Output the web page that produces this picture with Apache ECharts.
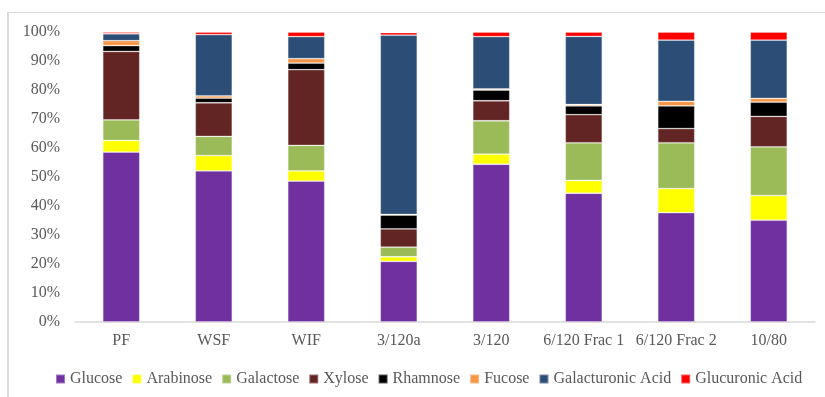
<!DOCTYPE html>
<html>
<head>
<meta charset="utf-8">
<script src="https://cdn.jsdelivr.net/npm/echarts@6/dist/echarts.min.js"></script>
<style>
  html, body { margin: 0; padding: 0; background: #fff; }
  #frame { position: absolute; left: 7px; top: 12px; width: 830px; height: 400px; border-left: 2px solid #d9d9d9; border-top: 1px solid #d9d9d9; box-sizing: border-box; }
  #chart { position: absolute; left: 0; top: 0; width: 825px; height: 397px; }
</style>
</head>
<body>
<div id="frame"></div>
<div id="chart"></div>
<script>
// Sample fractions
const categories = ['PF', 'WSF', 'WIF', '3/120a', '3/120', '6/120 Frac 1', '6/120 Frac 2', '10/80'];

// Monosaccharide composition, % of total for each fraction
const glucose          = [58.6, 52.1, 48.6, 20.9, 54.4, 44.4, 37.7, 35.1];
const arabinose        = [ 4.0,  5.3,  3.5,  1.6,  3.5,  4.4,  8.3,  8.5];
const galactose        = [ 7.1,  6.6,  8.8,  3.3, 11.5, 13.0, 15.8, 16.8];
const xylose           = [23.6, 11.6, 26.1,  6.3,  6.9,  9.7,  4.9, 10.5];
const rhamnose         = [ 2.0,  1.6,  2.3,  4.8,  3.7,  3.0,  7.8,  4.9];
const fucose           = [ 1.7,  0.8,  1.5,  0.2,  0.4,  0.5,  1.6,  1.3];
const galacturonicAcid = [ 2.4, 21.1,  7.6, 61.8, 18.0, 23.5, 21.1, 20.1];
const glucuronicAcid   = [ 0.6,  0.9,  1.6,  0.9,  1.6,  1.5,  2.8,  2.8];

const yTicks = [0, 10, 20, 30, 40, 50, 60, 70, 80, 90, 100];

const seriesDefs = [
  ['Glucose', glucose, '#7030A0'],
  ['Arabinose', arabinose, '#FFFF00'],
  ['Galactose', galactose, '#9BBB59'],
  ['Xylose', xylose, '#632523'],
  ['Rhamnose', rhamnose, '#000000'],
  ['Fucose', fucose, '#F79646'],
  ['Galacturonic Acid', galacturonicAcid, '#2C4D75'],
  ['Glucuronic Acid', glucuronicAcid, '#FF0000']
];

const font = '"Liberation Serif", serif';
const textColor = '#595959';

const chart = echarts.init(document.getElementById('chart'), null, { renderer: 'canvas' });
chart.setOption({
  animation: false,
  backgroundColor: 'transparent',
  grid: { left: 75, right: 10, top: 32, bottom: 75, containLabel: false },
  legend: {
    top: 371,
    left: 55,
    padding: 0,
    itemWidth: 9,
    itemHeight: 9,
    itemGap: 9,
    icon: 'rect',
    textStyle: { fontFamily: font, fontSize: 16, color: textColor },
    data: seriesDefs.map(s => s[0])
  },
  xAxis: {
    type: 'category',
    data: categories,
    axisLine: { lineStyle: { color: '#d9d9d9', width: 1.5 } },
    axisTick: { show: false },
    axisLabel: { fontFamily: font, fontSize: 16, color: textColor, margin: 11, interval: 0 }
  },
  yAxis: {
    type: 'value',
    min: yTicks[0],
    max: yTicks[yTicks.length - 1],
    interval: 10,
    axisLine: { show: false },
    axisTick: { show: false },
    splitLine: { show: false },
    axisLabel: { fontFamily: font, fontSize: 16, color: textColor, margin: 15, formatter: v => v + '%' }
  },
  series: seriesDefs.map(([name, values, color]) => ({
    name: name,
    type: 'bar',
    stack: 'total',
    barWidth: '40%',
    data: values,
    itemStyle: { color: color, borderColor: 'rgba(255,255,255,0.35)', borderWidth: 0.8 }
  }))
});
</script>
</body>
</html>
